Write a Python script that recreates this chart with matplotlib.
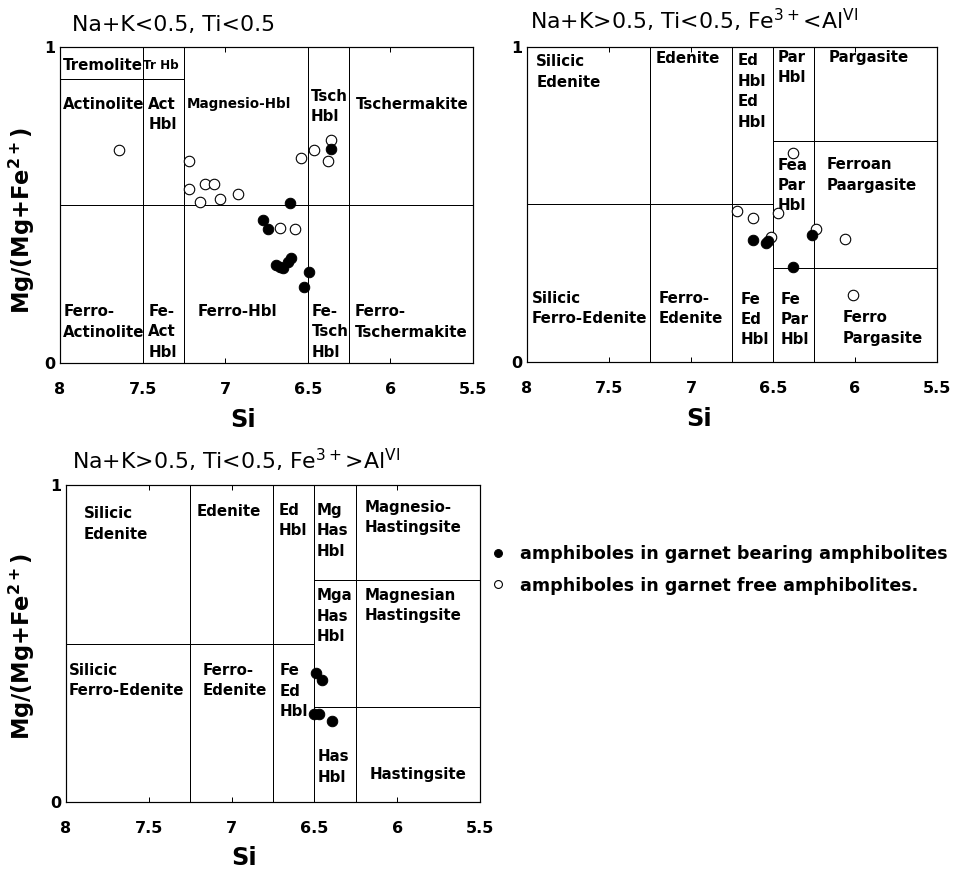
import matplotlib
matplotlib.use('Agg')
import matplotlib.pyplot as plt

# Si (a.p.f.u.) and Mg/(Mg+Fe2+)
# panel 1: Na+K<0.5, Ti<0.5
p1_free_si = [7.64, 7.22, 7.22, 7.12, 7.07, 7.15, 7.03, 6.92, 6.67, 6.58, 6.54, 6.46, 6.36, 6.38]
p1_free_mg = [0.674, 0.639, 0.552, 0.566, 0.566, 0.509, 0.520, 0.534, 0.426, 0.424, 0.648, 0.674, 0.706, 0.639]
p1_bear_si = [6.36, 6.61, 6.77, 6.74, 6.69, 6.67, 6.65, 6.62, 6.60, 6.49, 6.52]
p1_bear_mg = [0.676, 0.505, 0.453, 0.423, 0.310, 0.305, 0.300, 0.320, 0.331, 0.289, 0.241]

# panel 2: Na+K>0.5, Ti<0.5, Fe3+<AlVI
p2_free_si = [6.38, 6.72, 6.62, 6.47, 6.51, 6.24, 6.06, 6.01]
p2_free_mg = [0.664, 0.478, 0.457, 0.474, 0.397, 0.421, 0.390, 0.212]
p2_bear_si = [6.62, 6.54, 6.53, 6.26, 6.38]
p2_bear_mg = [0.386, 0.378, 0.385, 0.404, 0.302]

# panel 3: Na+K>0.5, Ti<0.5, Fe3+>AlVI
p3_bear_si = [6.49, 6.455, 6.50, 6.47, 6.395]
p3_bear_mg = [0.407, 0.386, 0.279, 0.279, 0.254]

# field boundaries
p1_vlines = [7.5, 7.25, 6.5, 6.25]
p1_hlines = [(0.5, 8.0, 5.5), (0.9, 8.0, 7.25)]
p23_vlines = [7.25, 6.75, 6.5, 6.25]
p23_hlines = [(0.5, 8.0, 6.5), (0.7, 6.5, 5.5), (0.3, 6.5, 5.5)]

# field names (text, Si, Mg#)
p1_names = [("Tremolite", 7.985, 0.943), ("Actinolite", 7.985, 0.819),
            ("Act\nHbl", 7.465, 0.786), ("Magnesio-Hbl", 7.232, 0.819),
            ("Tsch\nHbl", 6.48, 0.811), ("Tschermakite", 6.206, 0.819),
            ("Ferro-\nActinolite", 7.98, 0.13), ("Fe-\nAct\nHbl", 7.465, 0.099),
            ("Ferro-Hbl", 7.165, 0.162), ("Fe-\nTsch\nHbl", 6.475, 0.099),
            ("Ferro-\nTschermakite", 6.218, 0.13)]
p2_names = [("Silicic\nEdenite", 7.943, 0.92), ("Edenite", 7.217, 0.963),
            ("Ed\nHbl\nEd\nHbl", 6.713, 0.859), ("Par\nHbl", 6.47, 0.934),
            ("Pargasite", 6.159, 0.968), ("Fea\nPar\nHbl", 6.47, 0.56),
            ("Ferroan\nPaargasite", 6.174, 0.594), ("Silicic\nFerro-Edenite", 7.973, 0.169),
            ("Ferro-\nEdenite", 7.197, 0.169), ("Fe\nEd\nHbl", 6.70, 0.135),
            ("Fe\nPar\nHbl", 6.455, 0.135), ("Ferro\nPargasite", 6.073, 0.108)]
p3_names = [("Silicic\nEdenite", 7.894, 0.877), ("Edenite", 7.214, 0.917),
            ("Ed\nHbl", 6.715, 0.888), ("Mg\nHas\nHbl", 6.485, 0.856),
            ("Magnesio-\nHastingsite", 6.194, 0.898), ("Mga\nHas\nHbl", 6.485, 0.586),
            ("Magnesian\nHastingsite", 6.194, 0.62), ("Silicic\nFerro-Edenite", 7.984, 0.383),
            ("Ferro-\nEdenite", 7.176, 0.383), ("Fe\nEd\nHbl", 6.71, 0.349),
            ("Has\nHbl", 6.48, 0.111), ("Hastingsite", 6.168, 0.086)]

si_ticks = [8, 7.5, 7, 6.5, 6, 5.5]
si_labels = ["8", "7.5", "7", "6.5", "6", "5.5"]

W, H = 964, 870
fig = plt.figure(figsize=(W / 72, H / 72), dpi=72)


def make_axes(left, top, right, bottom):
    ax = fig.add_axes([left / W, 1 - bottom / H, (right - left) / W, (bottom - top) / H])
    ax.set_xlim(8, 5.5)
    ax.set_ylim(0, 1)
    ax.set_xticks(si_ticks)
    ax.set_xticklabels(si_labels)
    ax.set_yticks([0, 1])
    ax.set_yticklabels(["0", "1"])
    ax.tick_params(direction='in', top=True, length=5, width=1, labelsize=16, pad=19)
    ax.tick_params(axis='y', pad=5)
    for lab in ax.get_xticklabels() + ax.get_yticklabels():
        lab.set_fontweight('bold')
    for sp in ax.spines.values():
        sp.set_linewidth(1.2)
    return ax


def draw_fields(ax, vlines, hlines, names):
    ax.vlines(vlines, 0, 1, color='black', linewidth=1)
    for y, x0, x1 in hlines:
        ax.hlines(y, x0, x1, color='black', linewidth=1)
    for txt, x, y in names:
        fs = 13.5 if txt == "Magnesio-Hbl" else 15
        ax.text(x, y, txt, ha='left', va='center', fontsize=fs, fontweight='bold',
                linespacing=1.45)


def add_points(ax, bear_si, bear_mg, free_si=None, free_mg=None):
    hb = ax.plot(bear_si, bear_mg, 'o', color='black', markersize=10.5, zorder=5)[0]
    hf = None
    if free_si is not None:
        hf = ax.plot(free_si, free_mg, 'o', markerfacecolor='white', markeredgecolor='black',
                     markeredgewidth=1.1, markersize=10.5, zorder=4)[0]
    return hb, hf


ylab = "Mg/(Mg+Fe$^{\\mathbf{2+}}$)"

# panel 1
ax1 = make_axes(60, 47, 473, 363)
draw_fields(ax1, p1_vlines, p1_hlines, p1_names)
ax1.text(7.495, 0.943, "Tr Hb", ha='left', va='center', fontsize=12, fontweight='bold')
hb, hf = add_points(ax1, p1_bear_si, p1_bear_mg, p1_free_si, p1_free_mg)
ax1.text(0.029, 1.07, "Na+K<0.5, Ti<0.5", transform=ax1.transAxes, fontsize=22,
         ha='left', va='center')
ax1.text(0.443, -0.18, "Si", transform=ax1.transAxes, fontsize=24, fontweight='bold',
         ha='center', va='center')
ax1.text(-0.092, 0.45, ylab, transform=ax1.transAxes, fontsize=22.5, fontweight='bold',
         rotation=90, ha='center', va='center')

# panel 2
ax2 = make_axes(527, 47, 937, 362)
draw_fields(ax2, p23_vlines, p23_hlines, p2_names)
add_points(ax2, p2_bear_si, p2_bear_mg, p2_free_si, p2_free_mg)
ax2.text(0.007, 1.086, "Na+K>0.5, Ti<0.5, Fe$^{3+}$<Al$^{\\mathrm{VI}}$", transform=ax2.transAxes,
         fontsize=22, ha='left', va='center')
ax2.text(0.42, -0.18, "Si", transform=ax2.transAxes, fontsize=24, fontweight='bold',
         ha='center', va='center')

# panel 3
ax3 = make_axes(66, 485, 480, 802)
draw_fields(ax3, p23_vlines, p23_hlines, p3_names)
add_points(ax3, p3_bear_si, p3_bear_mg)
ax3.text(0.015, 1.079, "Na+K>0.5, Ti<0.5, Fe$^{3+}$>Al$^{\\mathrm{VI}}$", transform=ax3.transAxes,
         fontsize=22, ha='left', va='center')
ax3.text(0.43, -0.177, "Si", transform=ax3.transAxes, fontsize=24, fontweight='bold',
         ha='center', va='center')
ax3.text(-0.106, 0.49, ylab, transform=ax3.transAxes, fontsize=22.5, fontweight='bold',
         rotation=90, ha='center', va='center')

fig.legend([hb, hf], ["amphiboles in garnet bearing amphibolites",
                      "amphiboles in garnet free amphibolites."],
           loc='center left', bbox_to_anchor=(489 / W, 1 - 570 / H), frameon=False,
           prop={'size': 17.5, 'weight': 'bold'}, markerscale=0.75, handlelength=1.0,
           handletextpad=0.75, borderpad=0, borderaxespad=0, labelspacing=0.75)

fig.savefig('out.png', dpi=72, facecolor='white')
